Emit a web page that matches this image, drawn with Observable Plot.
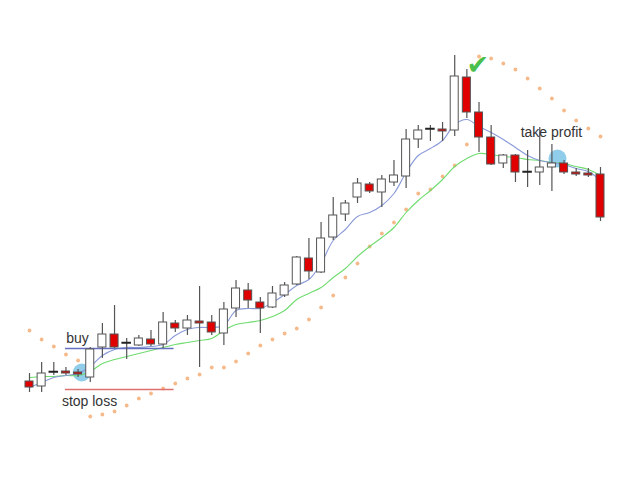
<!DOCTYPE html>
<html>
<head>
<meta charset="utf-8">
<script src="https://cdn.jsdelivr.net/npm/d3@7"></script>
<script src="https://cdn.jsdelivr.net/npm/@observablehq/plot@0.6"></script>
<style>
  html, body { margin: 0; padding: 0; background: #fff; }
  #chart svg { display: block; }
</style>
</head>
<body>
<div id="chart"></div>
<script>
// Candle prices (arbitrary price units)
const open  = [99,94,108,109,108,103,133,146,137,135,141,136,157,152,159,158,147,172,190,178,173,185,196,222,208,243,266,283,296,288,298,304,341,351,351,350,403,368,343,317,325,308,308,313,317,308,307,306];
const high  = [107,118,118,113,111,133,157,175,142,145,150,168,160,165,194,165,178,200,197,183,194,198,224,242,258,283,280,302,298,305,320,351,355,355,358,425,411,378,355,326,326,330,353,336,320,312,312,313];
const low   = [88,88,105,105,103,98,122,132,121,134,134,132,148,145,113,145,135,163,172,147,172,183,195,201,207,240,259,277,287,273,294,292,332,339,339,344,362,328,315,312,298,293,295,289,306,304,303,259];
const close = [93,107,108.5,107,106,131,146,133,137.5,142,136,158,152,160,157,148,171,192,180,172,187,195,223,209,242,265,277,297,289,301,305,341,350,351.5,349,404,368,343,316,325,308,308.5,313,317,308,306,305,263];
// Indicators
const fastMA = [93,98,103,105,107,114,125,131,133,133,134,136,145,151,153,153,155,170,172,172,178,186,195,201,217,240,251,264,268,275,287,308,325,332,340,356,361,354,348,341,333,325,320,318,316,312,309,300];
const slowMA = [103,104,104,105,105,109,117,121,124,127,130,133,136,138,140,142,150,156,158,160,164,170,181,187,193,203,212,224,234,243,253,268,280,290,301,314,322,327,326,324,323,321,320,318,317,314,311,305];
const sar    = [150,141,134,126,120,64,66,69,75,82,87,92,97,102,106,113,113,119,127,135,141,147,152,161,173,185,203,217,234,247,258,271,287,291,304,315,336,424,422,417,411,402,392,382,370,360,352,344];
// Annotations
const levelLabels = ["buy", "stop loss"];
const levelValues = [132, 91];
const levelColors = ["#6670c0", "#e07070"];
const levelFrom = 3.96, levelTo = 12.9;
const labelText = ["buy", "stop loss", "take profit"];
const labelX = [4.95, 5.94, 43.96];
const labelY = [142, 79, 348];
const circleX = [5.3, 44.46];
const circleY = [108, 322];
const checkX = [37.9], checkY = [415];

const candles = open.map((o, k) => ({i: k + 1, open: o, high: high[k], low: low[k], close: close[k], fast: fastMA[k], slow: slowMA[k], sar: sar[k]}));
const levels = levelValues.map((v, k) => ({name: levelLabels[k], v, color: levelColors[k]}));
const labels = labelText.map((t, k) => ({t, x: labelX[k], y: labelY[k]}));
const circles = circleX.map((x, k) => ({x, y: circleY[k]}));
const checks = checkX.map((x, k) => ({x, y: checkY[k]}));

const hw = 0.33;
const chart = Plot.plot({
  width: 638,
  height: 479,
  margin: 0,
  style: {background: "#fff", fontFamily: "'Liberation Sans', Arial, sans-serif"},
  x: {domain: [1, 48], range: [29, 600], axis: null},
  y: {domain: [1, 480], range: [479, 0], axis: null},
  marks: [
    Plot.dot(circles, {x: "x", y: "y", r: 9, fill: "#7cc4e6", fillOpacity: 0.85, stroke: "none"}),
    Plot.dot(candles, {x: "i", y: "sar", r: 1.9, fill: "#f6b98a", stroke: "none"}),
    Plot.line(candles, {x: "i", y: "slow", stroke: "#6fdc6f", strokeWidth: 1.1, curve: "catmull-rom"}),
    Plot.line(candles, {x: "i", y: "fast", stroke: "#8a9ad8", strokeWidth: 1.1, curve: "catmull-rom"}),
    Plot.ruleY(levels, {y: "v", x1: levelFrom, x2: levelTo, stroke: "color", strokeWidth: 1.3}),
    Plot.ruleX(candles, {x: "i", y1: "low", y2: "high", stroke: "#555", strokeWidth: 1.2}),
    Plot.rect(candles, {
      x1: d => d.i - hw, x2: d => d.i + hw, y1: "open", y2: "close",
      fill: d => d.close >= d.open ? "#fff" : "#e00000",
      stroke: d => (Math.abs(d.close - d.open) < 1 ? "#222" : "#555"),
      strokeWidth: d => (Math.abs(d.close - d.open) < 1 ? 1.5 : 1)
    }),
    Plot.text(labels, {x: "x", y: "y", text: "t", fontSize: 14, fill: "#333"}),
    Plot.text(checks, {x: "x", y: "y", text: () => "✔", fontSize: 27, fill: "#4cc04c", fontFamily: "DejaVu Sans"})
  ]
});
document.getElementById("chart").appendChild(chart);
</script>
</body>
</html>
